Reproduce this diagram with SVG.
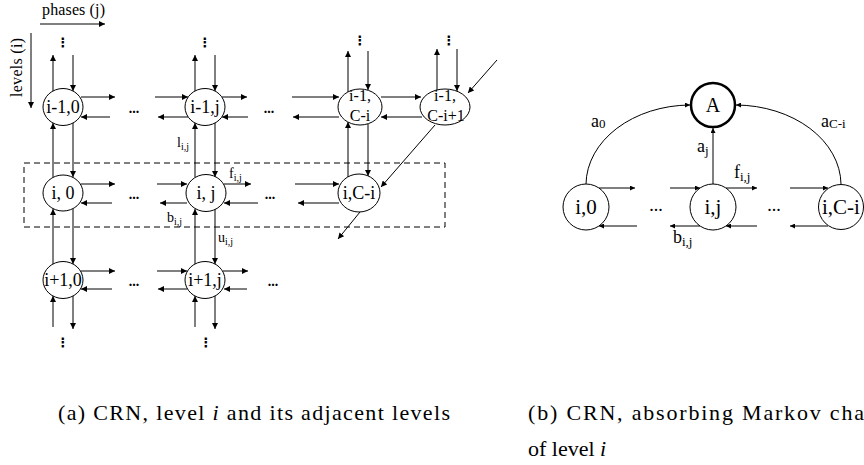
<svg xmlns="http://www.w3.org/2000/svg" width="864" height="465" viewBox="0 0 864 465">
<style>
text{font-family:"Liberation Serif","Times New Roman",serif;fill:#000}
.n{font-size:18px;text-anchor:middle}
.n2{font-size:16px;text-anchor:middle}
.nr{font-size:21px;text-anchor:middle}
.lb{font-size:14px}
.sb{font-size:10px}
.lr{font-size:18px}
.sr{font-size:13px}
.dots{font-size:14px;font-weight:bold;text-anchor:middle}
.vd{font-family:"DejaVu Sans",sans-serif;font-size:13px;font-weight:bold;text-anchor:middle}
.cap{font-size:22px}
ellipse,circle{fill:#fff;stroke:#000;stroke-width:1}
.c line,.c path{stroke:#000;stroke-width:1;fill:none}
.a{marker-end:url(#ah)}
.ar{marker-end:url(#ahs)}
</style>
<defs>
<marker id="ah" viewBox="0 0 10 10" refX="10" refY="5" markerWidth="8" markerHeight="6" markerUnits="userSpaceOnUse" orient="auto"><path d="M0,0 L10,5 L0,10 z" fill="#000"/></marker>
<marker id="ahs" viewBox="0 0 10 10" refX="10" refY="5" markerWidth="7" markerHeight="5" markerUnits="userSpaceOnUse" orient="auto"><path d="M0,0 L10,5 L0,10 z" fill="#000"/></marker>
</defs>

<!-- axes -->
<g id="axes" class="c">
<text x="42" y="15" style="font-size:16px" textLength="63">phases (j)</text>
<line x1="40" y1="24" x2="105" y2="24" class="a"/>
<text transform="translate(22,97) rotate(-90)" style="font-size:16px" textLength="59">levels (i)</text>
<line x1="31" y1="33" x2="31" y2="108" class="a"/>
</g>

<!-- connectors -->
<g id="connectors" class="c">
<!-- column 0 vertical -->
<line x1="53" y1="91" x2="53" y2="55" class="a"/>
<line x1="73" y1="55" x2="73" y2="91" class="a"/>
<line x1="53" y1="177" x2="53" y2="123" class="a"/>
<line x1="73" y1="123" x2="73" y2="177" class="a"/>
<line x1="53" y1="264" x2="53" y2="209" class="a"/>
<line x1="73" y1="209" x2="73" y2="264" class="a"/>
<line x1="53" y1="327" x2="53" y2="296" class="a"/>
<line x1="73" y1="296" x2="73" y2="329" class="a"/>
<!-- column j vertical -->
<line x1="195" y1="91" x2="195" y2="55" class="a"/>
<line x1="215" y1="55" x2="215" y2="91" class="a"/>
<line x1="195" y1="177" x2="195" y2="123" class="a"/>
<line x1="215" y1="123" x2="215" y2="177" class="a"/>
<line x1="195" y1="264" x2="195" y2="209" class="a"/>
<line x1="215" y1="209" x2="215" y2="264" class="a"/>
<line x1="195" y1="327" x2="195" y2="296" class="a"/>
<line x1="215" y1="296" x2="215" y2="329" class="a"/>
<!-- column C-i vertical -->
<line x1="348" y1="92" x2="348" y2="51" class="a"/>
<line x1="368" y1="51" x2="368" y2="90" class="a"/>
<line x1="348" y1="177" x2="348" y2="122" class="a"/>
<line x1="368" y1="124" x2="368" y2="176" class="a"/>
<!-- column C-i+1 vertical -->
<line x1="437" y1="90" x2="437" y2="49" class="a"/>
<line x1="457" y1="49" x2="457" y2="91" class="a"/>
<line x1="497" y1="60" x2="468" y2="93" class="a"/>
<line x1="435" y1="125" x2="381" y2="187" class="a"/>
<line x1="360" y1="212" x2="338" y2="239" class="a"/>
<!-- row 1 horizontal -->
<line x1="81" y1="97" x2="115" y2="97" class="a"/>
<line x1="110" y1="117" x2="81" y2="117" class="a"/>
<line x1="155" y1="97" x2="188" y2="97" class="a"/>
<line x1="188" y1="117" x2="158" y2="117" class="a"/>
<line x1="222" y1="97" x2="247" y2="97" class="a"/>
<line x1="248" y1="117" x2="222" y2="117" class="a"/>
<line x1="292" y1="97" x2="339" y2="97" class="a"/>
<line x1="339" y1="117" x2="293" y2="117" class="a"/>
<line x1="381" y1="97" x2="421" y2="97" class="a"/>
<line x1="422" y1="117" x2="381" y2="117" class="a"/>
<!-- row 2 horizontal -->
<line x1="81" y1="184" x2="115" y2="184" class="a"/>
<line x1="112" y1="203" x2="81" y2="203" class="a"/>
<line x1="157" y1="184" x2="187" y2="184" class="a"/>
<line x1="187" y1="203" x2="160" y2="203" class="a"/>
<line x1="224" y1="184" x2="251" y2="184" class="a"/>
<line x1="258" y1="203" x2="224" y2="203" class="a"/>
<line x1="295" y1="184" x2="339" y2="184" class="a"/>
<line x1="339" y1="203" x2="298" y2="203" class="a"/>
<!-- row 3 horizontal -->
<line x1="81" y1="271" x2="115" y2="271" class="a"/>
<line x1="112" y1="289" x2="81" y2="289" class="a"/>
<line x1="157" y1="271" x2="187" y2="271" class="a"/>
<line x1="187" y1="289" x2="158" y2="289" class="a"/>
<line x1="223" y1="271" x2="248" y2="271" class="a"/>
<line x1="247" y1="289" x2="224" y2="289" class="a"/>
<!-- dashed level box -->
<rect x="24" y="163" width="421" height="64" fill="none" stroke="#000" stroke-width="1" stroke-dasharray="6,4"/>

<!-- right diagram -->
<path d="M586,184 A105,80 0 0 1 690,105" class="ar"/>
<path d="M841,184 A106,80 0 0 0 736,105" class="ar"/>
<line x1="713" y1="184" x2="713" y2="128" class="ar"/>
<line x1="599" y1="188" x2="635" y2="188" class="ar"/>
<line x1="637" y1="226" x2="599" y2="226" class="ar"/>
<line x1="670" y1="188" x2="700" y2="188" class="ar"/>
<line x1="700" y1="226" x2="670" y2="226" class="ar"/>
<line x1="726" y1="188" x2="757" y2="188" class="ar"/>
<line x1="757" y1="226" x2="726" y2="226" class="ar"/>
<line x1="790" y1="188" x2="828" y2="188" class="ar"/>
<line x1="828" y1="226" x2="790" y2="226" class="ar"/>
</g>

<!-- edge labels -->
<g id="labels">
<text x="177" y="147" class="lb">l<tspan class="sb" dy="3">i,j</tspan></text>
<text x="229" y="178" class="lb">f<tspan class="sb" dy="3">i,j</tspan></text>
<text x="167" y="222" class="lb">b<tspan class="sb" dy="3">i,j</tspan></text>
<text x="218" y="242" class="lb">u<tspan class="sb" dy="3">i,j</tspan></text>
<text x="134" y="113" class="dots">...</text>
<text x="269" y="113" class="dots">...</text>
<text x="134" y="199" class="dots">...</text>
<text x="270" y="199" class="dots">...</text>
<text x="134" y="286" class="dots">...</text>
<text x="273" y="286" class="dots">...</text>
<text x="63" y="47" class="vd">⋮</text>
<text x="205" y="47" class="vd">⋮</text>
<text x="360" y="45" class="vd">⋮</text>
<text x="449" y="45" class="vd">⋮</text>
<text x="63" y="347" class="vd">⋮</text>
<text x="206" y="347" class="vd">⋮</text>

<text x="591" y="127" class="lr">a<tspan class="sr" dy="1">0</tspan></text>
<text x="821" y="127" class="lr">a<tspan class="sr" dy="1">C-i</tspan></text>
<text x="697" y="152" class="lr">a<tspan class="sr" dy="3">j</tspan></text>
<text x="734" y="178" class="lr">f<tspan class="sr" dy="3">i,j</tspan></text>
<text x="673" y="243" class="lr">b<tspan class="sr" dy="3">i,j</tspan></text>
<text x="656" y="211" class="lr" text-anchor="middle">...</text>
<text x="774" y="211" class="lr" text-anchor="middle">...</text>
</g>

<!-- left nodes -->
<g id="n_im1_0"><ellipse cx="63" cy="107" rx="20" ry="18.5"/><text x="63" y="113" class="n">i-1,0</text></g>
<g id="n_im1_j"><ellipse cx="205" cy="107" rx="20" ry="18.5"/><text x="205" y="113" class="n">i-1,j</text></g>
<g id="n_im1_Ci"><ellipse cx="360" cy="107" rx="22" ry="18"/><text x="360" y="101" class="n2">i-1,</text><text x="360" y="121" class="n2">C-i</text></g>
<g id="n_im1_Ci1"><ellipse cx="445" cy="107" rx="25" ry="18"/><text x="445" y="101" class="n2">i-1,</text><text x="446" y="121" class="n2">C-i+1</text></g>
<g id="n_i_0"><ellipse cx="63" cy="193" rx="20" ry="18"/><text x="63" y="199" class="n">i, 0</text></g>
<g id="n_i_j"><ellipse cx="206" cy="193" rx="20" ry="18.5"/><text x="206" y="199" class="n">i, j</text></g>
<g id="n_i_Ci"><ellipse cx="359" cy="193" rx="21" ry="19"/><text x="359" y="199" class="n">i,C-i</text></g>
<g id="n_ip1_0"><ellipse cx="63" cy="280" rx="20" ry="18.5"/><text x="63" y="286" class="n">i+1,0</text></g>
<g id="n_ip1_j"><ellipse cx="205" cy="280" rx="20" ry="18.5"/><text x="205" y="286" class="n">i+1,j</text></g>

<!-- right nodes -->
<g id="r_A"><circle cx="713" cy="105" r="22" style="stroke-width:2.5"/><text x="713" y="112" class="nr" style="font-size:20px">A</text></g>
<g id="r_i_0"><circle cx="586" cy="207" r="23"/><text x="586" y="214" class="nr">i,0</text></g>
<g id="r_i_j"><circle cx="713" cy="207" r="23"/><text x="713" y="214" class="nr">i,j</text></g>
<g id="r_i_Ci"><circle cx="841" cy="207" r="22.5"/><text x="841" y="214" class="nr">i,C-i</text></g>

<!-- captions -->
<g id="captions">
<text x="58" y="420" class="cap" textLength="392">(a) CRN, level <tspan font-style="italic">i</tspan> and its adjacent levels</text>
<text x="528" y="420" class="cap" textLength="336">(b) CRN, absorbing Markov cha</text>
<text x="528" y="456" class="cap">of level <tspan font-style="italic">i</tspan></text>
</g>
</svg>
